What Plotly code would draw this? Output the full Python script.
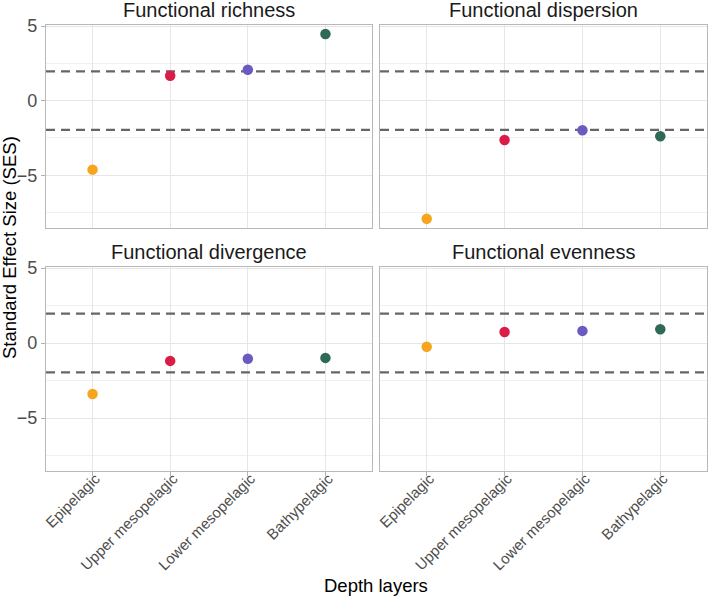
import plotly.graph_objects as go

layers = ["Epipelagic", "Upper mesopelagic", "Lower mesopelagic", "Bathypelagic"]
colors = ["#F7A51F", "#D91D47", "#6A5BC0", "#306A56"]
panel_titles = ["Functional richness", "Functional dispersion", "Functional divergence", "Functional evenness"]
richness = [-4.62, 1.67, 2.07, 4.47]
dispersion = [-7.91, -2.64, -1.98, -2.38]
divergence = [-3.40, -1.19, -1.05, -0.99]
evenness = [-0.25, 0.74, 0.81, 0.92]
series = [richness, dispersion, divergence, evenness]
thresholds = [-1.96, 1.96]
y_ticks = [-5, 0, 5]
y_tick_text = ["\u22125", "0", "5"]
y_minor = [-7.5, -2.5, 2.5]

W, H = 709, 598
xdom = [[46 / W, 372 / W], [380 / W, 707 / W]]
ydom_top = [(H - 228) / H, (H - 25) / H]
ydom_bot = [(H - 471) / H, (H - 267) / H]
ydoms = [ydom_top, ydom_top, ydom_bot, ydom_bot]
xds = [xdom[0], xdom[1], xdom[0], xdom[1]]

fig = go.Figure()
font = "Liberation Sans, Arial, sans-serif"

for i in range(4):
    ax = "" if i == 0 else str(i + 1)
    xref = "x" + ax
    yref = "y" + ax
    for t in thresholds:
        fig.add_trace(go.Scatter(
            x=[-0.6, 3.6], y=[t, t], mode="lines",
            line=dict(color="#666666", width=2.2, dash="9px,6px"),
            xaxis=xref, yaxis=yref, showlegend=False, hoverinfo="skip"))
    fig.add_trace(go.Scatter(
        x=list(range(len(layers))), y=series[i], mode="markers",
        marker=dict(color=colors, size=10.5, line=dict(width=0)),
        xaxis=xref, yaxis=yref, showlegend=False))
    left = i in (0, 2)
    bottom = i in (2, 3)
    fig.layout["xaxis" + ax] = dict(
        domain=xds[i], anchor=yref, range=[-0.6, 3.6], automargin=False,
        tickvals=list(range(len(layers))), ticktext=layers,
        showticklabels=bottom, tickangle=-45,
        ticklabelstandoff=-12, ticklabelshift=3,
        tickfont=dict(family=font, size=15, color="#4D4D4D"),
        showgrid=True, gridcolor="#E6E6E6", gridwidth=1,
        ticks="outside" if bottom else "", ticklen=4, tickcolor="#B3B3B3",
        showline=True, mirror=True, linecolor="#B8B8B8", linewidth=1.2,
        zeroline=False, fixedrange=True)
    fig.layout["yaxis" + ax] = dict(
        domain=ydoms[i], anchor=xref, range=[-8.53, 5.07], automargin=False,
        tickvals=y_ticks, ticktext=y_tick_text,
        showticklabels=left,
        tickfont=dict(family=font, size=18, color="#4D4D4D"),
        showgrid=True, gridcolor="#E6E6E6", gridwidth=1,
        minor=dict(tickvals=y_minor, showgrid=True, gridcolor="#F0F0F0", gridwidth=0.8),
        ticks="outside" if left else "", ticklen=4, tickcolor="#B3B3B3",
        showline=True, mirror=True, linecolor="#B8B8B8", linewidth=1.2,
        zeroline=False, fixedrange=True)
    # panel title
    fig.add_annotation(
        x=(xds[i][0] + xds[i][1]) / 2, y=ydoms[i][1], xref="paper", yref="paper",
        text=panel_titles[i], showarrow=False, xanchor="center", yanchor="middle",
        yshift=15, font=dict(family=font, size=20, color="#1A1A1A"))

fig.add_annotation(x=376 / W, y=(H - 585) / H, xref="paper", yref="paper",
                   text="Depth layers", showarrow=False, xanchor="center", yanchor="middle",
                   font=dict(family=font, size=18.5, color="#000000"))
fig.add_annotation(x=10 / W, y=(H - 248) / H, xref="paper", yref="paper",
                   text="Standard Effect Size (SES)", showarrow=False, textangle=-90,
                   xanchor="center", yanchor="middle",
                   font=dict(family=font, size=18.5, color="#000000"))

fig.update_layout(width=W, height=H, margin=dict(l=0, r=0, t=0, b=0),
                  paper_bgcolor="white", plot_bgcolor="white", showlegend=False)
fig.write_html("out.html")
